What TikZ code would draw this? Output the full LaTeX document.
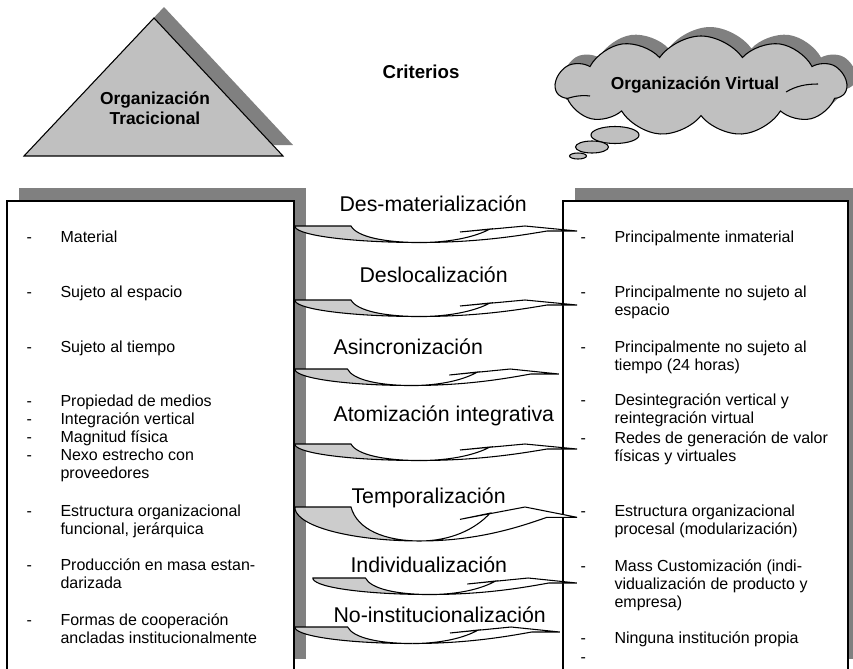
\documentclass[tikz,border=0pt]{standalone}
\usepackage{fontspec}
\setmainfont{Liberation Sans}
\usetikzlibrary{shapes.symbols}
\definecolor{sombra}{RGB}{128,128,128}
\definecolor{relleno}{RGB}{192,192,192}
\definecolor{cinta}{RGB}{204,204,204}
\newcommand{\lineas}[1]{\begin{tabular}[t]{@{}l@{}}#1\end{tabular}}
% one list entry: name, x of the dash, baseline, text
\newcommand{\punto}[4]{%
  \node[item] (#1g) at (#2,#3) {-};
  \node[item] (#1) at (#2+34,#3) {#4};}
% curved block arrow: left x, top y, length, depth
\newcommand{\flecha}[4]{%
  \begin{scope}[shift={(#1,#2)},xscale=#3/280,yscale=#4/17]
    \draw[fill=cinta] (0,0) -- (56,0) .. controls (62,11) and (90,16.5) .. (125,16.5)
        .. controls (60,16.5) and (4,10) .. (0,1) -- cycle;
    \draw[fill=white] (125,16.5) .. controls (185,16.5) and (228,9) .. (252,5) -- (282,5)
        -- (230,0) -- (165,6) -- (195,3) .. controls (180,11) and (155,16.5) .. (125,16.5) -- cycle;
  \end{scope}}

\begin{document}
\begin{tikzpicture}[x=0.75pt,y=-0.75pt,line width=0.8pt,
    item/.style={font=\fontsize{12}{13.5}\selectfont,inner sep=0pt,anchor=base west},
    criterio/.style={font=\fontsize{16}{19}\selectfont,inner sep=0pt,anchor=base west},
    titulo/.style={font=\bfseries\fontsize{13}{15}\selectfont,align=center,inner sep=0pt},
    nube/.style={cloud,cloud puffs=11,cloud puff arc=110,aspect=2.9,
        minimum width=218pt,minimum height=75pt,inner sep=0pt},
    ]
    \path[use as bounding box,clip] (0,0) rectangle (853,668);

    % Traditional organisation
    \fill[sombra] (34,145) -- (293,145) -- (164,7) -- cycle;
    \draw[fill=relleno] (24,156) -- (283,156) -- (154,18) -- cycle;
    \node[titulo] (trad) at (155,108) {Organización\\Tracicional};

    % Title
    \node[titulo,font=\bfseries\fontsize{14}{16}\selectfont] (crit) at (421,72) {Criterios};

    % Virtual organisation
    \node[nube,fill=sombra] (nubesombra) at (710,77) {};
    \node[nube,draw,fill=relleno] (nube) at (701,86) {};
    \draw (786,92) .. controls (796,86) and (806,84) .. (818,84);
    \draw (566,99) .. controls (574,96) and (582,95) .. (590,96);
    \node[titulo] (virt) at (695,85) {Organización Virtual};
    \draw[fill=relleno] (615,135) ellipse (24 and 8.5);
    \draw[fill=relleno] (592,147) ellipse (16.5 and 6);
    \draw[fill=relleno] (578,156) ellipse (8.5 and 3);

    % Boxes
    \fill[sombra] (19,188) rectangle (306,659);
    \draw[fill=white] (7,201) rectangle (294,700);
    \fill[sombra] (575,188) rectangle (870,659);
    \draw[fill=white] (563,201) rectangle (848,700);

    % Left list
    \punto{izq1}{26}{242}{Material}
    \punto{izq2}{26}{297}{Sujeto al espacio}
    \punto{izq3}{26}{352}{Sujeto al tiempo}
    \punto{izq4}{26}{406}{Propiedad de medios}
    \punto{izq5}{26}{424}{Integración vertical}
    \punto{izq6}{26}{442}{Magnitud física}
    \punto{izq7}{26}{460}{\lineas{Nexo estrecho con\\proveedores}}
    \punto{izq8}{26}{516}{\lineas{Estructura organizacional\\funcional, jerárquica}}
    \punto{izq9}{26}{570}{\lineas{Producción en masa estan-\\darizada}}
    \punto{izq10}{26}{625}{\lineas{Formas de cooperación\\ancladas institucionalmente}}

    % Right list
    \punto{der1}{580}{242}{Principalmente inmaterial}
    \punto{der2}{580}{297}{\lineas{Principalmente no sujeto al\\espacio}}
    \punto{der3}{580}{352}{\lineas{Principalmente no sujeto al\\tiempo (24 horas)}}
    \punto{der4}{580}{405}{\lineas{Desintegración vertical y\\reintegración virtual}}
    \punto{der5}{580}{443}{\lineas{Redes de generación de valor\\físicas y virtuales}}
    \punto{der6}{580}{516}{\lineas{Estructura organizacional\\procesal (modularización)}}
    \punto{der7}{580}{571}{\lineas{Mass Customización (indi-\\vidualización de producto y\\empresa)}}
    \punto{der8}{580}{643}{Ninguna institución propia}
    \node[item] (der9g) at (580,662) {-};

    % Criteria
    \node[criterio] (c1) at (339,211) {Des-materialización};
    \node[criterio] (c2) at (359,282) {Deslocalización};
    \node[criterio] (c3) at (333,354) {Asincronización};
    \node[criterio] (c4) at (333,421) {Atomización integrativa};
    \node[criterio] (c5) at (351,503) {Temporalización};
    \node[criterio] (c6) at (350,572) {Individualización};
    \node[criterio] (c7) at (333,622) {No-institucionalización};

    % Arrows
    \flecha{295}{226}{280}{17}
    \flecha{295}{300}{280}{17}
    \flecha{295}{369}{262}{17}
    \flecha{295}{444}{280}{17}
    \flecha{295}{507}{280}{35}
    \flecha{313}{578}{262}{17}
    \flecha{295}{627}{263}{17}

\end{tikzpicture}
\end{document}
